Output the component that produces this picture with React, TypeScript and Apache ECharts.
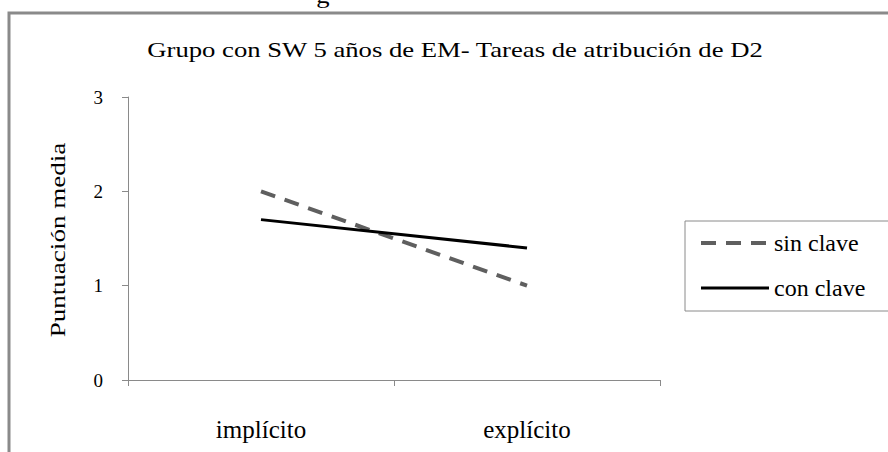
import React, { useEffect, useRef } from "react";
import * as echarts from "echarts";

const titleText = "Grupo con SW 5 años de EM- Tareas de atribución de D2";
const yAxisName = "Puntuación media";
const categories = ["implícito", "explícito"];
const seriesNames = ["sin clave", "con clave"];
const sinClave = [2.0, 1.0];
const conClave = [1.7, 1.4];
const yTicks = [0, 1, 2, 3];

const FAMILY = "Liberation Serif";

export default function App() {
  const ref = useRef<HTMLDivElement>(null);
  useEffect(() => {
    if (!ref.current) return;
    const chart = echarts.init(ref.current, null, { renderer: "svg" });
    chart.setOption({
      animation: false,
      backgroundColor: "#ffffff",
      grid: { left: 128, right: 228, top: 97, bottom: 72 },
      graphic: [
        {
          type: "rect",
          shape: { x: 9, y: 13, width: 900, height: 500 },
          style: { fill: "none", stroke: "#8a8a8a", lineWidth: 3 },
          z: 0,
        },
        {
          type: "text",
          x: 323,
          y: 6,
          scaleX: 1.27,
          style: {
            text: "g",
            fontFamily: FAMILY,
            fontSize: 21,
            fill: "#000",
            align: "center",
            verticalAlign: "bottom",
          },
        },
        {
          type: "text",
          x: 455,
          y: 50,
          scaleX: 1.27,
          style: {
            text: titleText,
            fontFamily: FAMILY,
            fontSize: 21,
            fill: "#000",
            align: "center",
            verticalAlign: "middle",
          },
        },
        {
          type: "text",
          x: 58,
          y: 240,
          rotation: Math.PI / 2,
          scaleX: 1.29,
          style: {
            text: yAxisName,
            fontFamily: FAMILY,
            fontSize: 21,
            fill: "#000",
            align: "center",
            verticalAlign: "middle",
          },
        },
      ],
      legend: {
        orient: "vertical",
        left: 685,
        top: 221,
        padding: [10, 24, 11, 14],
        itemGap: 21,
        itemWidth: 68,
        itemHeight: 14,
        borderColor: "#8a8a8a",
        borderWidth: 1,
        data: [
          { name: seriesNames[0], lineStyle: { width: 4 } },
          { name: seriesNames[1], lineStyle: { width: 3 } },
        ],
        itemStyle: { color: "rgba(0,0,0,0)", borderColor: "rgba(0,0,0,0)", borderWidth: 0 },
        textStyle: {
          fontFamily: FAMILY,
          fontSize: 24,
          lineHeight: 24,
          color: "#000",
        },
      },
      xAxis: {
        type: "category",
        data: categories,
        boundaryGap: true,
        axisLine: { lineStyle: { color: "#8a8a8a", width: 1 } },
        axisTick: { show: true, length: 6, lineStyle: { color: "#8a8a8a" } },
        axisLabel: {
          fontFamily: FAMILY,
          fontSize: 25,
          color: "#000",
          margin: 37,
        },
        splitLine: { show: false },
      },
      yAxis: {
        type: "value",
        min: yTicks[0],
        max: yTicks[yTicks.length - 1],
        interval: 1,
        axisLine: { show: true, lineStyle: { color: "#8a8a8a", width: 1 } },
        axisTick: { show: true, length: 6, lineStyle: { color: "#8a8a8a" } },
        axisLabel: {
          fontFamily: FAMILY,
          fontSize: 19,
          color: "#000",
          margin: 25,
        },
        splitLine: { show: false },
      },
      series: [
        {
          name: seriesNames[0],
          type: "line",
          data: sinClave,
          symbol: "none",
          lineStyle: { color: "#5f5f5f", width: 4, type: [15, 10] },
          itemStyle: { color: "#5f5f5f" },
        },
        {
          name: seriesNames[1],
          type: "line",
          data: conClave,
          symbol: "none",
          lineStyle: { color: "#000000", width: 3, type: "solid" },
          itemStyle: { color: "#000000" },
        },
      ],
    });
    return () => chart.dispose();
  }, []);
  return (
    <div
      ref={ref}
      style={{ position: "fixed", left: 0, top: 0, width: 888, height: 452 }}
    />
  );
}
